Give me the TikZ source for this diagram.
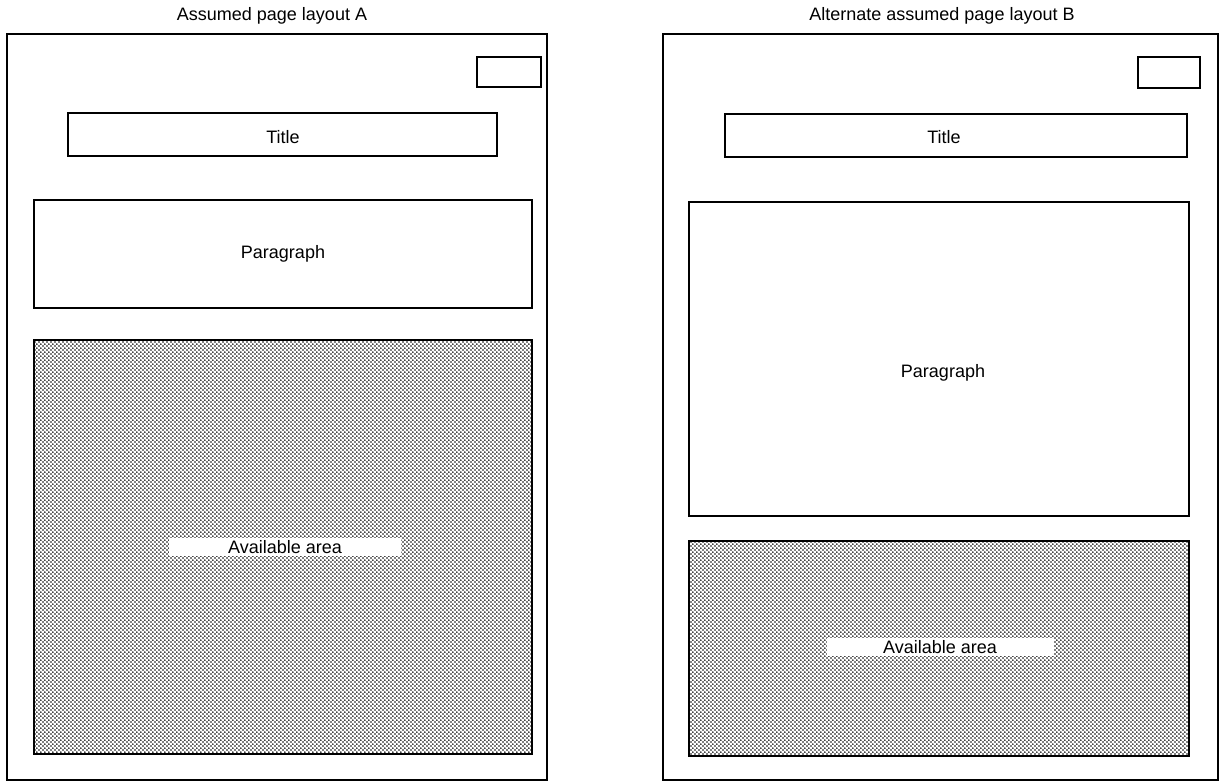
\documentclass[tikz,border=0pt]{standalone}
\usepackage{fontspec}
\setmainfont{Liberation Sans}
\usetikzlibrary{patterns.meta}
\tikzdeclarepattern{
  name=halftone,
  type=uncolored,
  bounding box={(0pt,0pt) and (4.4pt,4.4pt)},
  tile size={(4.4pt,4.4pt)},
  code={
    \fill (1.1pt,1.1pt) circle (1.0pt);
    \fill (3.3pt,3.3pt) circle (1.0pt);
  }
}
\tikzset{
  txt/.style={font=\fontsize{18}{20}\selectfont},
  box/.style={draw=black, line width=1.3pt, inner sep=0pt, rectangle, txt},
  page/.style={draw=black, line width=1.5pt, inner sep=0pt, rectangle},
  area/.style={box, pattern={halftone}, pattern color=black},
  lbl/.style={txt, inner sep=0pt},
  strip/.style={fill=white, inner sep=0pt, minimum height=18pt, txt}
}
\begin{document}
\begin{tikzpicture}[x=1pt,y=-1pt]
\useasboundingbox (0,0) rectangle (1223,781);
% ---------- Layout A ----------
\node[lbl] (headA) at (272,16) {Assumed page layout A};
\node[page, minimum width=540pt, minimum height=746pt] (pageA) at (277,407) {};
\node[box, minimum width=64pt, minimum height=30pt] (numA) at (509,72) {};
\node[box, minimum width=429pt, minimum height=43pt] (titleA) at (282.5,134.5) {};
\node[lbl] (titleTA) at (283,137) {Title};
\node[box, minimum width=498pt, minimum height=108pt] (paraA) at (283,254) {};
\node[lbl] (paraTA) at (283,254) {Paragraph};
\node[area, minimum width=498pt, minimum height=414pt] (availA) at (283,547) {};
\node[strip, minimum width=232pt] (availTA) at (285,547) {Available area};
% ---------- Layout B ----------
\node[lbl] (headB) at (942,16) {Alternate assumed page layout B};
\node[page, minimum width=555pt, minimum height=746pt] (pageB) at (940.5,407) {};
\node[box, minimum width=62pt, minimum height=31pt] (numB) at (1169,72.5) {};
\node[box, minimum width=462pt, minimum height=43pt] (titleB) at (956,135.5) {};
\node[lbl] (titleTB) at (944,137) {Title};
\node[box, minimum width=500pt, minimum height=314pt] (paraB) at (939,359) {};
\node[lbl] (paraTB) at (943,373) {Paragraph};
\node[area, minimum width=500pt, minimum height=215pt] (availB) at (939,648.5) {};
\node[strip, minimum width=227pt] (availTB) at (940,647) {Available area};
\end{tikzpicture}
\end{document}
